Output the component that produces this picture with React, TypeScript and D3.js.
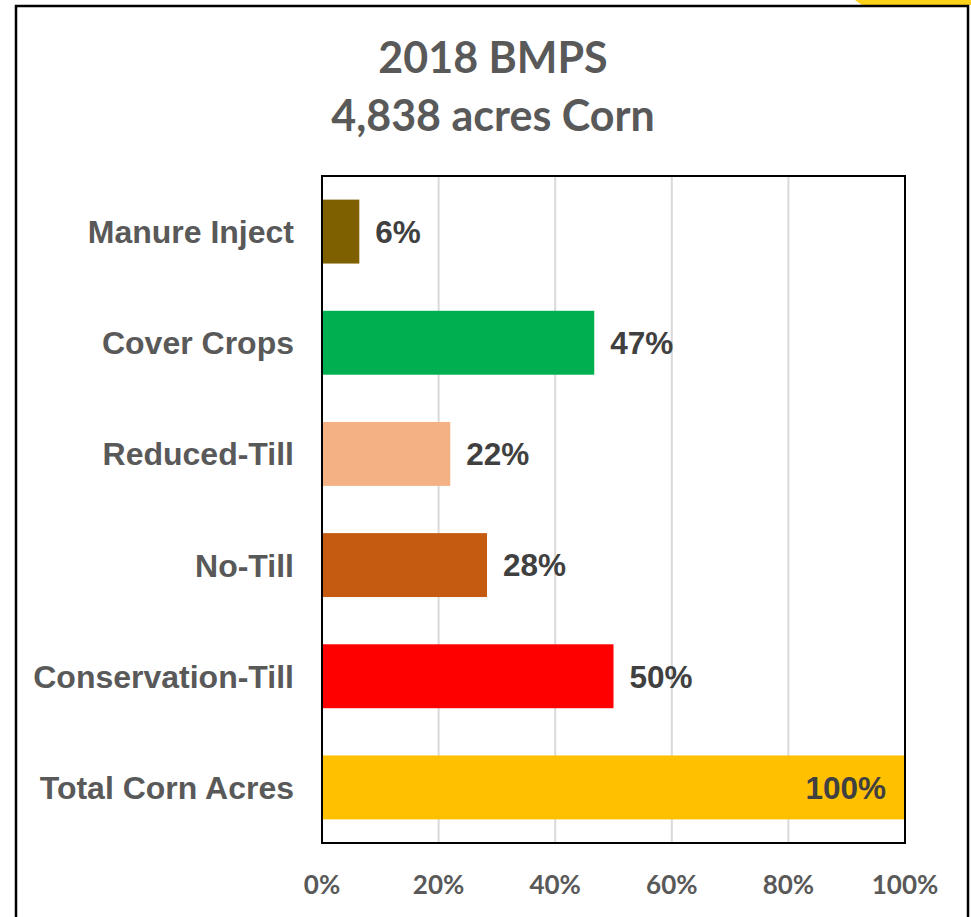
import React from "react";
import * as d3 from "d3";

const categories = ["Manure Inject", "Cover Crops", "Reduced-Till", "No-Till", "Conservation-Till", "Total Corn Acres"];
const values = [6.4, 46.7, 22, 28.3, 50, 100];
const valueLabels = ["6%", "47%", "22%", "28%", "50%", "100%"];
const barColors = ["#7F6000", "#00B050", "#F4B183", "#C55A11", "#FF0000", "#FFC000"];
const tickValues = [0, 20, 40, 60, 80, 100];
const titleLines = ["2018 BMPS", "4,838 acres Corn"];

const W = 971, H = 917;
const plot = { left: 322, right: 905, top: 176, bottom: 843 };

export default function App() {
  const x = d3.scaleLinear().domain([0, 100]).range([plot.left, plot.right]);
  const y = d3.scaleBand<string>().domain(categories).range([plot.top, plot.bottom]).paddingInner(0.425).paddingOuter(0.2125);
  const arial = "'Liberation Sans', Arial, sans-serif";
  const calib = "Lato, 'Open Sans', sans-serif";
  return (
    <svg width={W} height={H} style={{ position: "absolute", left: 0, top: 0, background: "#fff" }}>
      <path d="M855,0 L971,0 L971,5 L862,5 Z" fill="#FFD219" />
      <rect x={16} y={6} width={952} height={H + 20} fill="#fff" stroke="#000" strokeWidth={2.5} />
      {titleLines.map((t, i) => (
        <text key={t} x={493} y={73 + i * 58} textAnchor="middle" fontFamily={calib} fontWeight="bold" fontSize={43} fill="#595959">{t}</text>
      ))}
      {tickValues.slice(1, -1).map(v => (
        <line key={v} x1={x(v)} x2={x(v)} y1={plot.top} y2={plot.bottom} stroke="#D9D9D9" strokeWidth={2} />
      ))}
      {categories.map((c, i) => (
        <rect key={c} x={x(0)} y={y(c)!} width={x(values[i]) - x(0)} height={y.bandwidth()} fill={barColors[i]} />
      ))}
      <rect x={plot.left} y={plot.top} width={plot.right - plot.left} height={plot.bottom - plot.top} fill="none" stroke="#000" strokeWidth={2} />
      {categories.map((c, i) => {
        const inside = values[i] >= 90;
        return (
          <text key={c + "v"} x={inside ? x(values[i]) - 19 : x(values[i]) + 16} y={y(c)! + y.bandwidth() / 2} dy="0.36em"
            textAnchor={inside ? "end" : "start"} fontFamily={arial} fontWeight="bold" fontSize={31.5} fill="#404040">{valueLabels[i]}</text>
        );
      })}
      {categories.map(c => (
        <text key={c + "l"} x={294} y={y(c)! + y.bandwidth() / 2} dy="0.36em" textAnchor="end" fontFamily={arial} fontWeight="bold" fontSize={32} fill="#595959">{c}</text>
      ))}
      {tickValues.map(v => (
        <text key={v + "t"} x={x(v)} y={894} textAnchor="middle" fontFamily={calib} fontWeight="bold" fontSize={26} fill="#595959">{v + "%"}</text>
      ))}
    </svg>
  );
}
